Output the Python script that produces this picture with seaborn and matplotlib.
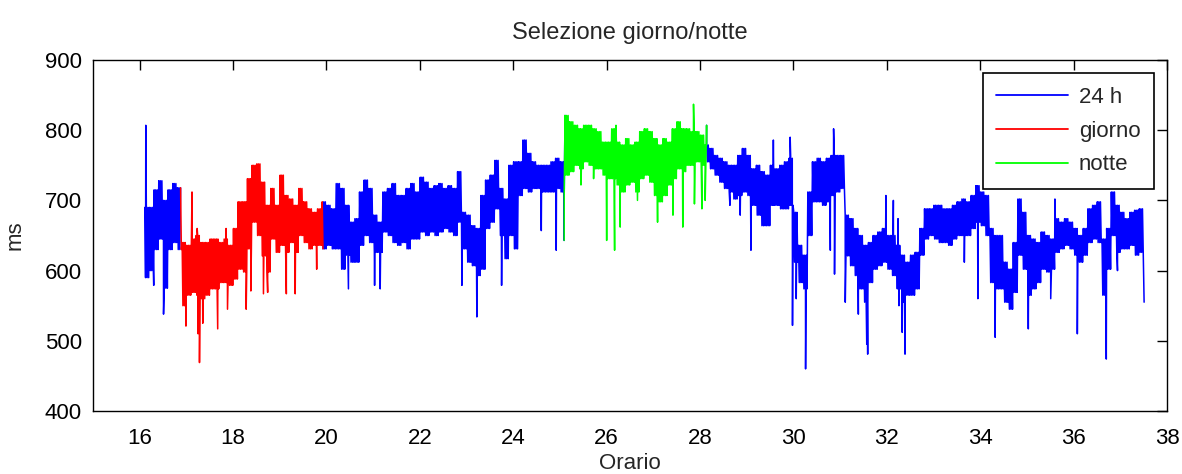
import numpy as np
import pandas as pd
import matplotlib
matplotlib.use("Agg")
import matplotlib.pyplot as plt
from matplotlib.lines import Line2D
import seaborn as sns

# Intervalli RR (ms) campionati ogni 0.1 h a partire dalle 16.15:
# per ogni campione il valore massimo e minimo della banda
t_inizio = 16.15
passo = 0.1
rr_alto = [
    690, 690, 715, 728, 700, 715, 724, 718, 640,
    636, 645, 650, 640, 640, 645, 645, 640, 645, 636,
    660, 698, 698, 731, 750, 752, 726, 693, 717, 693,
    736, 707, 702, 693, 717, 698, 688, 683, 688, 698,
    693, 688, 724, 717, 693, 669, 674, 712, 729, 717,
    679, 669, 712, 717, 724, 707, 707, 717, 724, 712,
    733, 726, 717, 721, 724, 717, 721, 717, 741, 683,
    679, 664, 660, 707, 729, 736, 757, 717, 702, 750,
    755, 755, 786, 767, 755, 750, 750, 750, 755, 760,
    755, 821, 812, 807, 802, 807, 807, 802, 798, 783,
    783, 802, 783, 779, 788, 779, 783, 798, 802, 798,
    788, 779, 788, 783, 802, 812, 802, 802, 798, 798,
    793, 779, 774, 764, 760, 755, 750, 750, 764, 774,
    764, 745, 750, 741, 736, 750, 745, 750, 755, 760,
    683, 636, 622, 712, 755, 760, 755, 760, 764, 764,
    764, 679, 674, 660, 650, 636, 640, 650, 655, 660,
    650, 650, 636, 622, 612, 622, 626, 660, 688, 688,
    693, 693, 688, 688, 693, 698, 702, 698, 707, 721,
    712, 707, 660, 650, 650, 612, 602, 640, 702, 683,
    650, 645, 640, 655, 650, 645, 674, 669, 674, 669,
    660, 650, 660, 688, 693, 698, 645, 660, 712, 693,
    683, 674, 683, 686, 688,
]
rr_basso = [
    590, 600, 630, 645, 575, 630, 640, 630, 550,
    565, 569, 565, 560, 565, 574, 574, 583, 583, 579,
    588, 602, 598, 631, 669, 650, 621, 598, 645, 626,
    636, 626, 640, 626, 650, 640, 631, 636, 636, 631,
    636, 631, 631, 602, 622, 612, 612, 636, 650, 640,
    626, 626, 655, 650, 640, 636, 640, 631, 645, 645,
    655, 650, 655, 650, 655, 660, 655, 650, 669, 631,
    612, 607, 593, 602, 660, 669, 688, 650, 617, 650,
    631, 707, 717, 712, 717, 717, 712, 712, 712, 717,
    712, 736, 741, 750, 745, 755, 750, 745, 745, 736,
    731, 731, 722, 712, 722, 726, 712, 731, 736, 726,
    707, 698, 707, 722, 731, 745, 741, 750, 750, 755,
    750, 755, 745, 736, 726, 717, 712, 702, 707, 712,
    707, 693, 679, 664, 664, 693, 693, 688, 688, 693,
    612, 583, 574, 650, 698, 698, 693, 698, 707, 712,
    717, 621, 607, 593, 574, 555, 583, 602, 607, 612,
    602, 593, 574, 555, 565, 565, 574, 622, 645, 650,
    645, 640, 640, 636, 645, 650, 650, 650, 660, 669,
    664, 650, 583, 574, 574, 555, 545, 569, 622, 602,
    565, 574, 583, 602, 598, 602, 626, 631, 636, 631,
    622, 612, 622, 640, 645, 640, 565, 602, 650, 626,
    631, 631, 636, 622, 626,
]

# Battiti isolati fuori dalla banda (ora, ms)
picchi_ora = [
    16.13, 16.30, 16.51, 16.99, 17.12, 17.23, 17.25, 17.28, 17.35, 17.67,
    17.85, 17.88, 18.28, 18.38, 18.65, 18.74, 19.14, 19.33, 19.79, 20.47,
    21.03, 21.15, 22.90, 23.22, 23.75, 24.60, 24.92, 25.09, 25.45, 25.72,
    26.00, 26.17, 26.20, 26.29, 26.66, 27.09, 27.42, 27.63, 27.86, 27.88,
    28.04, 28.11, 28.14, 28.64, 28.86, 29.09, 29.57, 29.93, 29.98, 30.06,
    30.26, 30.79, 30.86, 30.88, 31.11, 31.39, 31.57, 31.59, 31.98, 32.14,
    32.24, 32.26, 32.33, 32.39, 33.66, 33.95, 34.32, 35.03, 35.51, 35.60,
    36.08, 36.70, 36.94, 37.51,
]
picchi_ms = [
    807, 579, 538, 521, 712, 660, 510, 469, 525, 517,
    660, 545, 545, 571, 567, 569, 567, 567, 602, 574,
    579, 574, 579, 534, 579, 657, 629, 643, 722, 731,
    643, 629, 807, 662, 700, 669, 679, 662, 837, 695,
    688, 700, 807, 693, 679, 629, 786, 790, 522, 560,
    460, 629, 802, 595, 555, 538, 495, 481, 707, 700,
    674, 550, 512, 481, 612, 560, 505, 517, 560, 702,
    510, 474, 600, 555,
]

giorno = (16.88, 19.91)
notte = (25.11, 28.13)

# Traccia: dentro ogni campione la linea oscilla fra massimo e minimo
ore = t_inizio + passo * np.arange(len(rr_alto))
n_osc = 6
offset = ((np.arange(n_osc) + 0.5) / n_osc - 0.5) * passo
punti = []
for t, a, b in zip(ore, rr_alto, rr_basso):
    for k, d in enumerate(offset):
        punti.append((t + d, a if k % 2 == 0 else b))
punti += list(zip(picchi_ora, picchi_ms))
serie = pd.DataFrame(punti, columns=["Orario", "ms"])
serie = serie.sort_values("Orario", kind="stable").reset_index(drop=True)

h = serie["Orario"]
serie["tratto"] = np.select(
    [h < giorno[0], h <= giorno[1], h < notte[0], h <= notte[1]],
    ["pre", "giorno", "pomeriggio", "notte"], "mattina")
blu = serie[~serie["tratto"].isin(["giorno", "notte"])]
marg = passo / n_osc * 1.2
rosso = serie[(h >= giorno[0] - marg) & (h <= giorno[1] + marg)]
verde = serie[(h >= notte[0] - marg) & (h <= notte[1] + marg)]

sns.set_style("white")
plt.rcParams["font.family"] = ["Liberation Sans", "DejaVu Sans"]

fig = plt.figure(figsize=(11.82, 4.74), dpi=100)
ax = fig.add_axes([0.0787, 0.1329, 0.9086, 0.7405])

lw = 1.1
sns.lineplot(data=blu, x="Orario", y="ms", units="tratto", sort=False,
             estimator=None, color="#0000ff", lw=lw, ax=ax)
sns.lineplot(data=rosso, x="Orario", y="ms", sort=False, estimator=None,
             color="#ff0000", lw=lw, ax=ax)
sns.lineplot(data=verde, x="Orario", y="ms", sort=False, estimator=None,
             color="#00ff00", lw=lw, ax=ax)

ax.set_xlim(15, 38)
ax.set_ylim(400, 900)
ax.set_xticks(np.arange(16, 39, 2))
ax.set_yticks(np.arange(400, 901, 100))
ax.tick_params(direction="in", top=True, right=True, length=7, width=1,
               labelsize=16, colors="black")
ax.tick_params(axis="x", pad=12)
ax.tick_params(axis="y", pad=8)
for s in ax.spines.values():
    s.set_visible(True)
    s.set_color("black")
    s.set_linewidth(1.0)

ax.set_title("Selezione giorno/notte", fontsize=17, pad=15)
ax.set_xlabel("Orario", fontsize=16, labelpad=3)
ax.set_ylabel("ms", fontsize=16, labelpad=14)

handles = [Line2D([], [], color=c, lw=1.3) for c in ("#0000ff", "#ff0000", "#00ff00")]
leg = ax.legend(handles, ["24 h", "giorno", "notte"], loc="upper right",
                fontsize=16, frameon=True, fancybox=False, framealpha=1,
                edgecolor="black", handlelength=3.2, handletextpad=0.5,
                borderpad=0.6, labelspacing=0.58, borderaxespad=0.6)
leg.get_frame().set_linewidth(1.2)

fig.savefig("out.png", dpi=100)
